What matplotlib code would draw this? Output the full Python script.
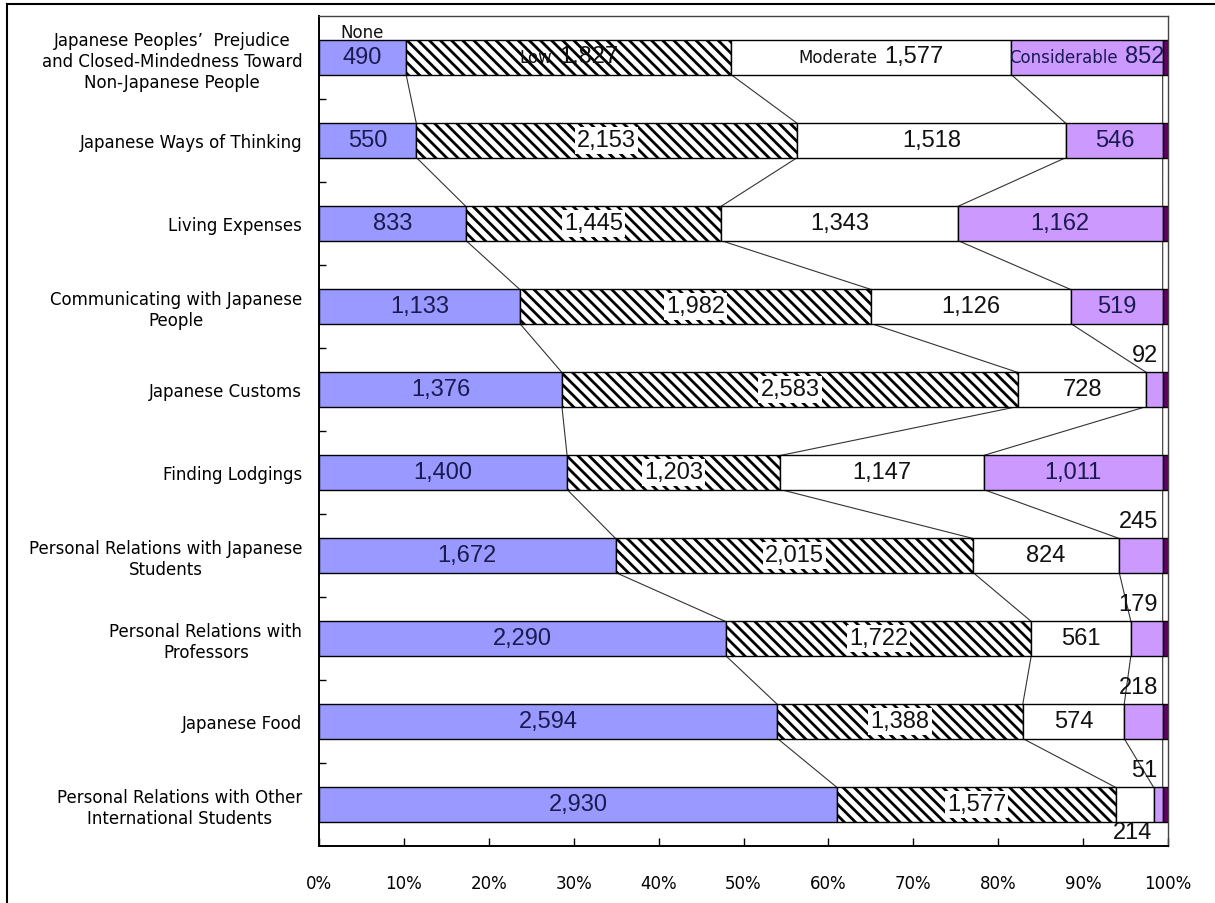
import numpy as np
import matplotlib.pyplot as plt
from matplotlib.lines import Line2D
from matplotlib.offsetbox import TextArea, HPacker, AnnotationBbox

categories = [
    "Japanese Peoples\u2019  Prejudice\nand Closed-Mindedness Toward\nNon-Japanese People",
    "Japanese Ways of Thinking",
    "Living Expenses",
    "Communicating with Japanese\nPeople",
    "Japanese Customs",
    "Finding Lodgings",
    "Personal Relations with Japanese\nStudents",
    "Personal Relations with\nProfessors",
    "Japanese Food",
    "Personal Relations with Other\nInternational Students",
]
none_vals = [490, 550, 833, 1133, 1376, 1400, 1672, 2290, 2594, 2930]
low_vals = [1827, 2153, 1445, 1982, 2583, 1203, 2015, 1722, 1388, 1577]
moderate_vals = [1577, 1518, 1343, 1126, 728, 1147, 824, 561, 574, 214]
considerable_vals = [852, 546, 1162, 519, 92, 1011, 245, 179, 218, 51]
# unlabelled dark segment at the right end, estimated from its width
other_vals = [30, 30, 30, 30, 30, 30, 30, 30, 30, 30]
series_names = ["None", "Low", "Moderate", "Considerable", ""]
x_ticks = [0, 0.1, 0.2, 0.3, 0.4, 0.5, 0.6, 0.7, 0.8, 0.9, 1.0]
x_tick_labels = ["0%", "10%", "20%", "30%", "40%", "50%", "60%", "70%", "80%", "90%", "100%"]

NUM_FONT = "Liberation Sans"
TXT_FONT = "DejaVu Sans"
plt.rcParams["hatch.linewidth"] = 2.0

data = np.array([none_vals, low_vals, moderate_vals, considerable_vals, other_vals], dtype=float)
shares = data / data.sum(axis=0)
cum = np.vstack([np.zeros(len(categories)), np.cumsum(shares, axis=0)])

fig = plt.figure(figsize=(12.15, 9.04), dpi=100)
W, H = 1215, 904
ax = fig.add_axes([319 / W, 1 - 847 / H, (1168 - 319) / W, (847 - 17) / H])

y = np.arange(len(categories))
bar_h = 0.41
faces = ["#9999FF", "white", "white", "#CC99FF", "#660066"]
hatches = [None, "\\\\\\", None, None, None]
for k in range(5):
    ax.barh(y, shares[k], left=cum[k], height=bar_h, color=faces[k],
            hatch=hatches[k], edgecolor="black", linewidth=1.0, zorder=2)

# series lines between the bars
for i in range(len(categories) - 1):
    for k in range(1, 5):
        ax.plot([cum[k][i], cum[k][i + 1]], [i + bar_h / 2, i + 1 - bar_h / 2],
                color="#333333", lw=0.8, zorder=1)

dark_txt = "#1a1a50"
txt_colors = [dark_txt, "#111111", "#111111", dark_txt]


def name_label(x, yv, name, value, color):
    box = HPacker(children=[
        TextArea(name, textprops=dict(fontsize=12, color=color, family=TXT_FONT)),
        TextArea(value, textprops=dict(fontsize=17, color=color, family=NUM_FONT))],
        align="baseline", pad=0, sep=5)
    ab = AnnotationBbox(box, (x, yv), frameon=False, box_alignment=(0.5, 0.45), pad=0, zorder=3)
    ax.add_artist(ab)


outside_cons = {4, 6, 7, 8, 9}
for k in range(4):
    for i in range(len(categories)):
        val = f"{int(data[k][i]):,}"
        xc = (cum[k][i] + cum[k + 1][i]) / 2
        if i == 0:
            if k == 0:
                ax.text(xc, i, val, ha="center", va="center", fontsize=17,
                        family=NUM_FONT, color=txt_colors[k], zorder=3)
                ax.text(xc, i - 0.31, series_names[k], ha="center", va="center",
                        fontsize=12, family=TXT_FONT, color="#111111", zorder=3)
            else:
                name_label(xc, i, series_names[k], val, txt_colors[k])
            continue
        if k == 3 and i in outside_cons:
            ax.text(0.988, i - 0.42, val, ha="right", va="center", fontsize=17,
                    family=NUM_FONT, color="#111111", zorder=3)
            continue
        if k == 2 and i == 9:
            ax.text(0.982, i + 0.33, val, ha="right", va="center", fontsize=17,
                    family=NUM_FONT, color="#111111", zorder=3)
            continue
        bbox = dict(facecolor="white", edgecolor="none", pad=1.5) if k == 1 else None
        ax.text(xc, i, val, ha="center", va="center", fontsize=17, family=NUM_FONT,
                color=txt_colors[k], bbox=bbox, zorder=3)

ax.set_xlim(0, 1)
ax.set_ylim(len(categories) - 0.5, -0.5)
ax.set_yticks(y)
ax.set_yticklabels(categories, fontsize=12, family=TXT_FONT, linespacing=1.2,
                   multialignment="center")
ax.set_yticks(np.arange(0.5, len(categories) - 1, 1.0), minor=True)
ax.tick_params(axis="y", which="major", length=0, pad=12)
ax.tick_params(axis="y", which="minor", direction="in", length=5, width=1)
ax.set_xticks(x_ticks)
ax.set_xticklabels(x_tick_labels, fontsize=12, family=TXT_FONT)
ax.tick_params(axis="x", direction="in", length=6, width=1, pad=20)

for side in ["top", "right"]:
    ax.spines[side].set_color("#444444")
    ax.spines[side].set_linewidth(1.0)
for side in ["left", "bottom"]:
    ax.spines[side].set_color("black")
    ax.spines[side].set_linewidth(1.4)

# outer frame (left and top edges only)
fig.add_artist(Line2D([7 / W, 7 / W], [0, 1 - 5 / H], transform=fig.transFigure,
                      color="black", lw=1.5))
fig.add_artist(Line2D([7 / W, 1], [1 - 5 / H, 1 - 5 / H], transform=fig.transFigure,
                      color="black", lw=1.5))

fig.savefig("out.png", dpi=100)
